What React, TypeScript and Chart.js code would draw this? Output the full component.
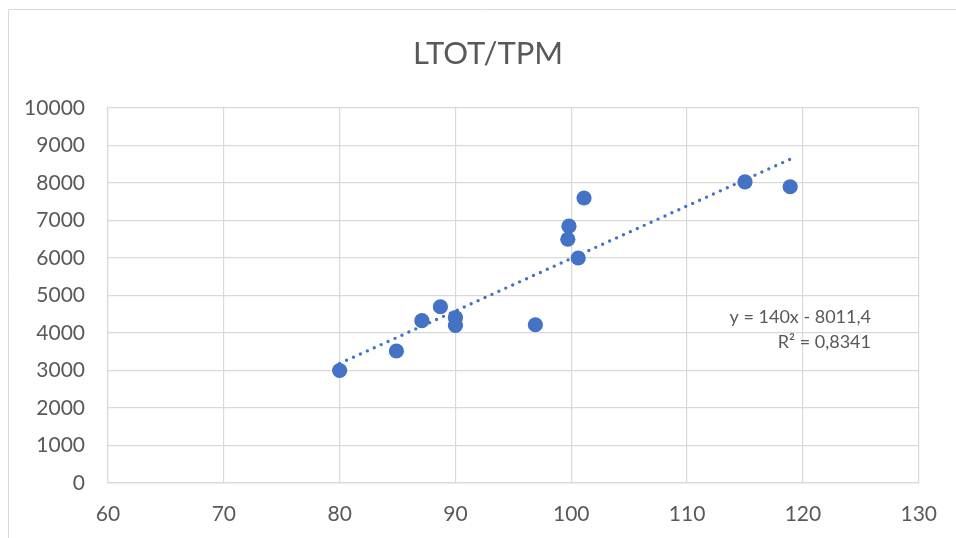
import React, { useEffect, useRef } from "react";
import { Chart, registerables } from "chart.js";

Chart.register(...registerables);

// LTOT vs TPM measurements
const tpmValues = [80, 84.9, 87.1, 88.7, 90, 90, 96.9, 99.8, 99.7, 100.6, 101.1, 115, 118.9];
const ltotValues = [3000, 3520, 4330, 4700, 4410, 4200, 4220, 6850, 6500, 6000, 7600, 8030, 7900];

// Linear trendline as reported: y = 140x - 8011,4
const trendSlope = 140;
const trendIntercept = -8011.4;
const trendLabel = "y = 140x - 8011,4";
const r2Label = "R² = 0,8341";
const chartTitle = "LTOT/TPM";

const xTicks = [60, 70, 80, 90, 100, 110, 120, 130];
const yTicks = [0, 1000, 2000, 3000, 4000, 5000, 6000, 7000, 8000, 9000, 10000];

const BLUE = "#4472C4";
const TEXT = "#595959";
const GRID = "#d9d9d9";
const FONT = "Lato, 'Open Sans', sans-serif";

const framePlugin = {
  id: "frame",
  beforeDraw(chart: any) {
    const { ctx, width, height } = chart;
    ctx.save();
    ctx.fillStyle = "#ffffff";
    ctx.fillRect(0, 0, width, height);
    ctx.strokeStyle = GRID;
    ctx.lineWidth = 1;
    ctx.beginPath();
    ctx.moveTo(8.5, height + 2);
    ctx.lineTo(8.5, 9.5);
    ctx.lineTo(width + 2, 9.5);
    ctx.stroke();
    ctx.restore();
  },
  afterDraw(chart: any) {
    const { ctx } = chart;
    ctx.save();
    ctx.fillStyle = TEXT;
    ctx.textAlign = "center";
    ctx.textBaseline = "middle";
    ctx.font = `31px ${FONT}`;
    ctx.fillText(chartTitle, 488, 54);
    ctx.textAlign = "right";
    ctx.font = `18px ${FONT}`;
    ctx.fillText(trendLabel, 871, 317);
    ctx.fillText(r2Label, 871, 342);
    ctx.restore();
  },
};

export default function App() {
  const canvasRef = useRef<HTMLCanvasElement | null>(null);

  useEffect(() => {
    if (!canvasRef.current) return;
    const points = tpmValues.map((x, i) => ({ x, y: ltotValues[i] }));
    const xMin = Math.min(...tpmValues);
    const xMax = Math.max(...tpmValues);
    const trend = [xMin, xMax].map((x) => ({ x, y: trendSlope * x + trendIntercept }));

    const chart = new Chart(canvasRef.current, {
      type: "scatter",
      data: {
        datasets: [
          {
            label: "Trendline",
            data: trend,
            showLine: true,
            borderColor: BLUE,
            borderWidth: 3.4,
            borderDash: [0, 7.6],
            borderCapStyle: "round",
            pointRadius: 0,
            order: 0,
          },
          {
            label: "LTOT/TPM",
            data: points,
            backgroundColor: BLUE,
            borderColor: BLUE,
            borderWidth: 0,
            pointRadius: 7.6,
            order: 1,
          },
        ],
      },
      options: {
        animation: false,
        responsive: false,
        maintainAspectRatio: false,
        layout: { padding: { top: 108, right: 35, left: 0, bottom: 0 } },
        plugins: {
          legend: { display: false },
          title: { display: false },
          tooltip: { enabled: false },
        },
        scales: {
          x: {
            type: "linear",
            min: 60,
            max: 130,
            afterBuildTicks(scale: any) {
              scale.ticks = xTicks.map((v) => ({ value: v }));
            },
            afterFit(scale: any) {
              scale.height = 55;
            },
            grid: { color: GRID, lineWidth: 1.2, drawTicks: false },
            border: { color: GRID, width: 1.2 },
            ticks: {
              color: TEXT,
              font: { family: FONT, size: 21 },
              padding: 19,
              maxRotation: 0,
            },
          },
          y: {
            type: "linear",
            min: 0,
            max: 10000,
            afterBuildTicks(scale: any) {
              scale.ticks = yTicks.map((v) => ({ value: v }));
            },
            afterFit(scale: any) {
              scale.width = 108;
            },
            grid: { color: GRID, lineWidth: 1.2, drawTicks: false },
            border: { color: GRID, width: 1.2 },
            ticks: {
              color: TEXT,
              font: { family: FONT, size: 21 },
              padding: 23,
              callback: (v: any) => String(v),
            },
          },
        },
      },
      plugins: [framePlugin],
    } as any);

    return () => chart.destroy();
  }, []);

  return (
    <div style={{ position: "fixed", left: 0, top: 0, width: 956, height: 538, background: "#fff" }}>
      <canvas ref={canvasRef} width={956} height={538} style={{ display: "block" }} />
    </div>
  );
}
